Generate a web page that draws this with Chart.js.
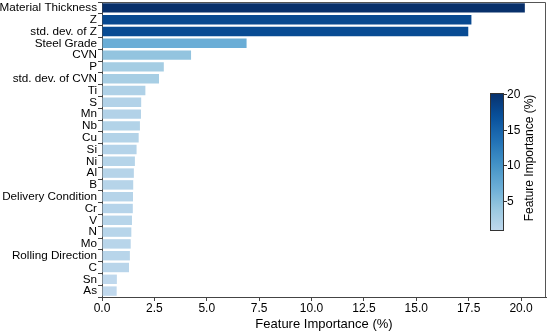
<!DOCTYPE html>
<html>
<head>
<meta charset="utf-8">
<script src="https://cdn.jsdelivr.net/npm/chart.js@4/dist/chart.umd.min.js"></script>
<style>
html,body{margin:0;padding:0;background:#fff;}
#c{display:block;}
</style>
</head>
<body>
<canvas id="c" width="550" height="333"></canvas>
<script>
const features = ['Material Thickness','Z','std. dev. of Z','Steel Grade','CVN','P','std. dev. of CVN','Ti','S','Mn','Nb','Cu','Si','Ni','Al','B','Delivery Condition','Cr','V','N','Mo','Rolling Direction','C','Sn','As'];
const importance = [20.18, 17.63, 17.48, 6.90, 4.25, 2.95, 2.72, 2.07, 1.87, 1.86, 1.81, 1.75, 1.65, 1.57, 1.52, 1.49, 1.48, 1.47, 1.43, 1.40, 1.37, 1.33, 1.29, 0.71, 0.70];
const xTicks = [0, 2.5, 5, 7.5, 10, 12.5, 15, 17.5, 20];
const colorbarTicks = [5, 10, 15, 20];
const axisTitle = 'Feature Importance (%)';
const colorbarTitle = 'Feature Importance (%)';

const FONT = "'Liberation Sans', Arial, Helvetica, sans-serif";
const BLUES = [[247,251,255],[222,235,247],[198,219,239],[158,202,225],[107,174,214],[66,146,198],[33,113,181],[8,81,156],[8,48,107]];
const P0 = 0.27;
const vmin = Math.min(...importance), vmax = Math.max(...importance);
function blues(p){
  p = Math.max(0, Math.min(1, p));
  const x = p * (BLUES.length - 1);
  const i = Math.min(BLUES.length - 2, Math.floor(x));
  const f = x - i;
  const a = BLUES[i], b = BLUES[i+1];
  return 'rgb(' + [0,1,2].map(k => Math.round(a[k] + (b[k]-a[k])*f)).join(',') + ')';
}
function colorFor(v){ return blues(P0 + (1-P0)*(v - vmin)/(vmax - vmin)); }

const frameAndColorbar = {
  id: 'frameAndColorbar',
  afterDraw(chart){
    const ctx = chart.ctx, ca = chart.chartArea;
    ctx.save();
    ctx.strokeStyle = '#555';
    ctx.lineWidth = 1;
    ctx.beginPath();
    ctx.moveTo(ca.left, ca.top + 0.5);
    ctx.lineTo(ca.right - 0.5, ca.top + 0.5);
    ctx.lineTo(ca.right - 0.5, ca.bottom);
    ctx.stroke();
    // colorbar
    const cbL = 490, cbR = 504, cbT = 93, cbB = 231;
    const g = ctx.createLinearGradient(0, cbB, 0, cbT);
    for (let s = 0; s <= 20; s++) {
      const t = s / 20;
      g.addColorStop(t, blues(P0 + (1-P0)*t));
    }
    ctx.fillStyle = g;
    ctx.fillRect(cbL, cbT, cbR - cbL, cbB - cbT);
    ctx.strokeStyle = '#333';
    ctx.strokeRect(cbL + 0.5, cbT + 0.5, cbR - cbL - 1, cbB - cbT - 1);
    const yOf = v => cbB - (v - vmin) / (vmax - vmin) * (cbB - cbT);
    ctx.fillStyle = '#000';
    ctx.font = '12px ' + FONT;
    ctx.textBaseline = 'middle';
    ctx.textAlign = 'left';
    colorbarTicks.forEach(v => {
      const y = Math.round(yOf(v)) + 0.5;
      ctx.beginPath();
      ctx.moveTo(cbR, y); ctx.lineTo(cbR + 3, y);
      ctx.stroke();
      ctx.fillText(String(v), cbR + 3, y);
    });
    ctx.translate(530, 158);
    ctx.rotate(-Math.PI / 2);
    ctx.textAlign = 'center';
    ctx.font = '12px ' + FONT;
    ctx.fillText(colorbarTitle, 0, 0);
    ctx.restore();
  }
};

new Chart(document.getElementById('c'), {
  type: 'bar',
  data: {
    labels: features,
    datasets: [{
      data: importance,
      backgroundColor: importance.map(colorFor),
      borderWidth: 0,
      barPercentage: 0.8,
      categoryPercentage: 1.0
    }]
  },
  options: {
    indexAxis: 'y',
    responsive: false,
    devicePixelRatio: 1,
    animation: false,
    layout: { padding: { left: 0, right: 4, top: 2, bottom: 0 } },
    plugins: { legend: { display: false }, tooltip: { enabled: false } },
    scales: {
      x: {
        type: 'linear',
        min: 0,
        max: 21.19,
        afterBuildTicks(scale){ scale.ticks = xTicks.map(v => ({ value: v })); },
        afterFit(scale){ scale.height = 36; scale.paddingLeft = 0; scale.paddingRight = 0; },
        ticks: {
          color: '#000',
          font: { size: 12, family: FONT },
          padding: 0,
          maxRotation: 0,
          callback: v => Number(v).toFixed(1)
        },
        grid: { drawOnChartArea: false, drawTicks: true, tickLength: 4, color: '#444' },
        border: { display: true, color: '#444', width: 1 },
        title: {
          display: true,
          text: axisTitle,
          color: '#000',
          font: { size: 13, family: FONT },
          padding: { top: 1, bottom: 1 }
        }
      },
      y: {
        type: 'category',
        afterFit(scale){ scale.width = 102; scale.paddingTop = 0; scale.paddingBottom = 0; },
        ticks: {
          color: '#000',
          font: { size: 11.7, family: FONT },
          padding: 1,
          autoSkip: false
        },
        grid: { drawOnChartArea: false, drawTicks: true, tickLength: 4, color: '#444' },
        border: { display: true, color: '#444', width: 1 }
      }
    }
  },
  plugins: [frameAndColorbar]
});
</script>
</body>
</html>
